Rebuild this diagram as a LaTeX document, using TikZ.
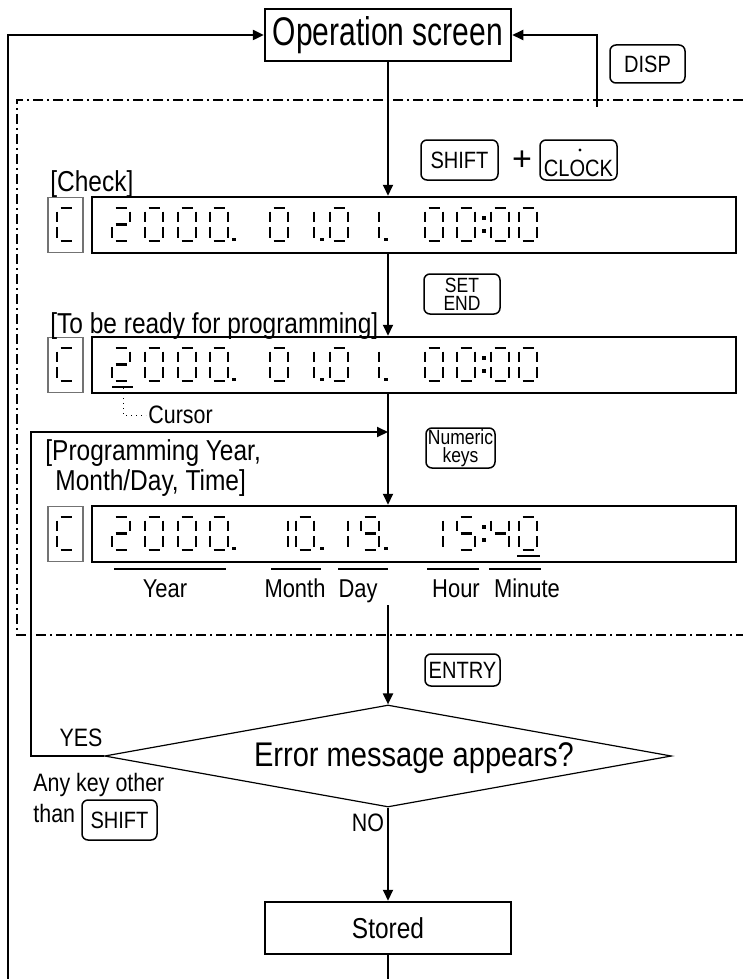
\documentclass[tikz,border=0pt]{standalone}
\usepackage{fontspec}
\setmainfont{Liberation Sans}
\newfontfamily\nf{Liberation Sans}[FakeStretch=0.85]
\newfontfamily\nfop{Liberation Sans}[FakeStretch=0.75]
\usetikzlibrary{arrows.meta,shapes.geometric,calc}
\newcommand\fsz[1]{\fontsize{#1}{#1}\selectfont}
% seven segment helpers (w=18, h=33, gap=3)
\newcommand\sgA[2]{\draw[seg] ({#1+3.5},{#2}) -- ({#1+14.5},{#2});}
\newcommand\sgB[2]{\draw[seg] ({#1+18},{#2+3.5}) -- ({#1+18},{#2+14});}
\newcommand\sgC[2]{\draw[seg] ({#1+18},{#2+19}) -- ({#1+18},{#2+29.5});}
\newcommand\sgD[2]{\draw[seg] ({#1+3.5},{#2+33}) -- ({#1+14.5},{#2+33});}
\newcommand\sgE[2]{\draw[seg] ({#1},{#2+19}) -- ({#1},{#2+29.5});}
\newcommand\sgF[2]{\draw[seg] ({#1},{#2+3.5}) -- ({#1},{#2+14});}
\newcommand\sgG[2]{\draw[seg] ({#1+3.5},{#2+16.5}) -- ({#1+14.5},{#2+16.5});}
\expandafter\def\csname dgl0\endcsname{A,B,C,D,E,F}
\expandafter\def\csname dgl1\endcsname{B,C}
\expandafter\def\csname dgl2\endcsname{A,B,G,E,D}
\expandafter\def\csname dgl4\endcsname{F,G,B,C}
\expandafter\def\csname dgl5\endcsname{A,F,G,C,D}
\expandafter\def\csname dgl9\endcsname{A,B,C,D,F,G}
\expandafter\def\csname dglC\endcsname{A,F,E,D}
\newcommand\dgt[3]{\edef\seglist{\csname dgl#3\endcsname}%
  \foreach \s in \seglist {\csname sg\s\endcsname{#1}{#2}}}
\newcommand\dpt[2]{\fill ({#1-1.8},{#2-1.8}) rectangle ({#1+1.8},{#2+1.8});}
\tikzset{
  seg/.style={line width=1.45pt},
  conn/.style={line width=1pt},
  arr/.style={line width=1pt,-{Triangle[length=5.5pt,width=5pt]}},
  bx/.style={draw,line width=1.25pt,inner sep=0pt},
  lcd/.style={draw,line width=1.25pt,inner sep=0pt,minimum width=322pt,minimum height=28pt},
  cbx/.style={draw=black!55,line width=0.6pt,inner sep=0pt,minimum width=17.5pt,minimum height=27.5pt},
  keyb/.style={draw,rounded corners=3pt,line width=0.75pt,inner sep=0pt,font=\nf\fsz{11.8},align=center},
  keytwo/.style={keyb,font=\nf\fontsize{10.3}{9}\selectfont},
  txt/.style={inner sep=0pt,font=\nf\fsz{14.4}},
  lbl/.style={inner sep=0pt,font=\nf\fsz{12.6}},
  unit/.style={inner sep=0pt,font=\nf\fsz{12.9},anchor=base},
  dashdot/.style={line width=0.6pt,dash pattern=on 5pt off 2pt on 1pt off 2pt},
  ovl/.style={line width=1.2pt},
}
\begin{document}
\begin{tikzpicture}[x=0.5pt,y=-0.5pt]
\useasboundingbox (0,0) rectangle (743,979);
% main boxes
\node[bx,minimum width=123pt,minimum height=26pt,font=\nfop\fsz{20}] (op) at (388,35) {Operation screen};
\node[lcd] (d1) at (414,225) {};
\node[lcd] (d2) at (414,365) {};
\node[lcd] (d3) at (414,534) {};
\node[cbx] (c1) at (65.5,225) {};
\node[cbx] (c2) at (65.5,365) {};
\node[cbx] (c3) at (65.5,534) {};
\node[draw,shape=diamond,line width=0.6pt,inner sep=0pt,aspect=5.5,minimum width=283.5pt,minimum height=51pt] (dia) at (388,756) {};
\node[inner sep=0pt,font=\nf\fsz{17.1}] (terr) at (414,758) {Error message appears?};
\node[bx,minimum width=123pt,minimum height=26pt,font=\nf\fsz{14.4}] (stored) at (388,928) {Stored};
% dash-dot frame
\draw[dashdot] (743,100) -- (17,100) -- (17,635) -- (743,635);
% keys
\node[keyb,minimum width=37.5pt,minimum height=19pt] (kdisp) at (647.5,64) {DISP};
\node[keyb,minimum width=38.5pt,minimum height=20pt] (kshift) at (459.5,160) {SHIFT};
\node[inner sep=0pt,font=\fsz{17}] (plus) at (522,161) {+};
\node[keyb,minimum width=38.5pt,minimum height=20pt] (kclock) at (578.5,160) {};
\node[inner sep=0pt,font=\nf\fsz{11.8}] (tclock) at (578.5,168) {CLOCK};
\fill (580,150) circle (1.6);
\node[keytwo,minimum width=38pt,minimum height=20pt] (kset) at (462,294) {SET\\END};
\node[keytwo,minimum width=34.5pt,minimum height=20pt] (knum) at (460.5,448) {Numeric\\keys};
\node[keyb,minimum width=37.5pt,minimum height=16pt] (kentry) at (462.5,670) {ENTRY};
\node[keyb,minimum width=37.5pt,minimum height=20pt] (kshift2) at (119.5,820) {SHIFT};
% texts
\node[txt,anchor=west] (tcheck) at (50,184) {[Check]};
\node[txt,anchor=west] (tready) at (50,326) {[To be ready for programming]};
\node[lbl,anchor=west] (tcur) at (148,415) {Cursor};
\node[txt,anchor=west] (tprog1) at (45,453) {[Programming Year,};
\node[txt,anchor=west] (tprog2) at (55,483) {Month/Day, Time]};
\node[unit] (tyear) at (165,597) {Year};
\node[unit] (tmonth) at (295,597) {Month};
\node[unit] (tday) at (358,597) {Day};
\node[unit] (thour) at (456,597) {Hour};
\node[unit] (tmin) at (527,597) {Minute};
\node[lbl] (tyes) at (81,738) {YES};
\node[lbl,anchor=west] (tany) at (33,785) {Any key other};
\node[lbl,anchor=west] (tthan) at (33,813) {than};
\node[lbl] (tno) at (368,823) {NO};
% overlines
\draw[ovl] (114,569) -- (226,569);
\draw[ovl] (271,569) -- (321,569);
\draw[ovl] (338,569) -- (388,569);
\draw[ovl] (427,569) -- (479,569);
\draw[ovl] (489,569) -- (541,569);
% cursor underlines
\draw[ovl] (112,387) -- (133,387);
\draw[ovl] (517,556) -- (540,556);
\coordinate (ul2) at (123,388);
\draw[line width=0.5pt,dotted] (ul2) -- (ul2 |- tcur.west) -- ([xshift=-1pt]tcur.west);
% connectors
\draw[arr] (op.south) -- (op.south |- d1.north);
\draw[arr] (op.south |- d1.south) -- (op.south |- d2.north);
\draw[arr] (op.south |- d2.south) -- (op.south |- d3.north);
\coordinate (m4) at (388,605);
\draw[arr] (m4) -- (dia.north);
\draw[arr] (dia.south) -- (stored.north);
\coordinate (bot) at (388,979);
\draw[conn] (stored.south) -- (bot);
\coordinate (lb) at (8,979);
\draw[arr,line width=1.2pt] (lb) -- (lb |- op.west) -- (op.west);
\coordinate (rf) at (597,107);
\draw[arr] (rf) -- (rf |- op.east) -- (op.east);
\coordinate (yl) at (31,432);
\draw[arr] (dia.west) -- (dia.west -| yl) -- (yl) -- (yl -| op.south);
% seven segment content
\foreach \T in {208,348,517}{
  \dgt{57}{\T}{C}
  \dgt{112}{\T}{2}\dgt{145}{\T}{0}\dgt{178}{\T}{0}\dgt{210}{\T}{0}
  \dpt{234}{\T+31.5}
  \dpt{322}{\T+31.5}
  \dpt{386}{\T+31.5}
  \dpt{484}{\T+10}\dpt{484}{\T+23}
}
\foreach \T in {208,348}{
  \dgt{270}{\T}{0}\dgt{296}{\T}{1}\dgt{330}{\T}{0}\dgt{361}{\T}{1}
  \dgt{425}{\T}{0}\dgt{457}{\T}{0}\dgt{491}{\T}{0}\dgt{519}{\T}{0}
}
\dgt{270}{517}{1}\dgt{296}{517}{0}\dgt{330}{517}{1}\dgt{361}{517}{9}
\dgt{425}{517}{1}\dgt{457}{517}{5}\dgt{491}{517}{4}\dgt{519}{517}{0}
\end{tikzpicture}
\end{document}
